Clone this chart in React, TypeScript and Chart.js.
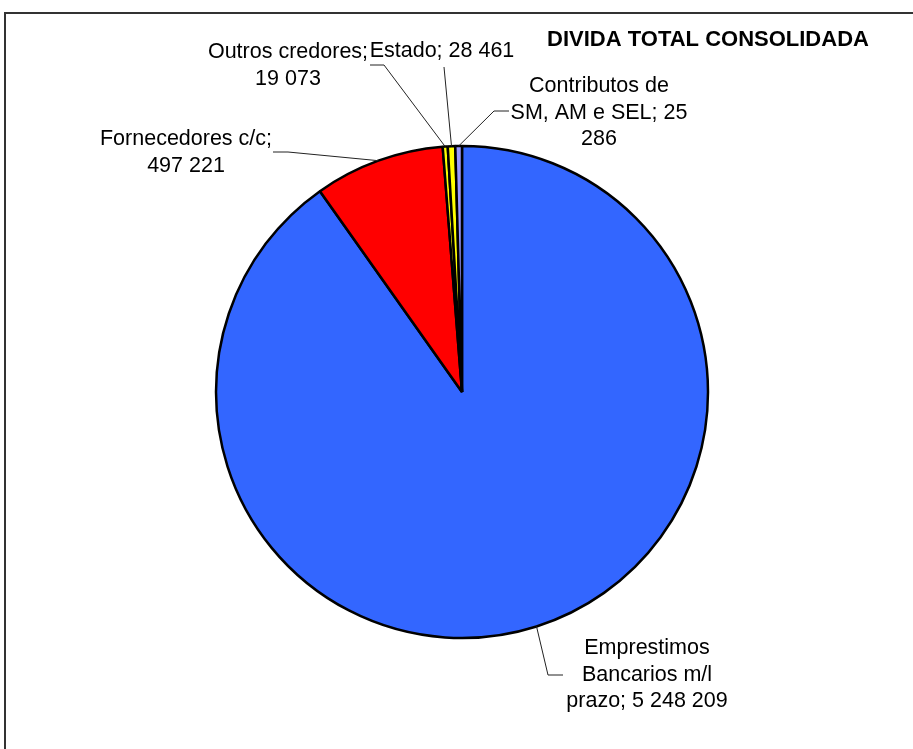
import React, { useEffect, useRef } from "react";
import { Chart, registerables } from "chart.js";

Chart.register(...registerables);

const categories: string[] = [
  "Emprestimos Bancarios m/l prazo",
  "Fornecedores c/c",
  "Outros credores",
  "Estado",
  "Contributos de SM, AM e SEL",
];
const values: number[] = [5248209, 497221, 19073, 28461, 25286];
const colors: string[] = ["#3366FF", "#FF0000", "#FFFF00", "#FFFF00", "#9999FF"];
const titleText = "DIVIDA TOTAL CONSOLIDADA";

const fmt = (v: number) => v.toString().replace(/\B(?=(\d{3})+(?!\d))/g, " ");

// label layout: centre x, first baseline y, wrap width, leader elbow points
const labelLayout = [
  { cx: 647, y: 654, wrap: 172, pts: [[548, 675], [563, 675]] },
  { cx: 186, y: 145, wrap: 185, pts: [[288, 152], [273, 152]] },
  { cx: 288, y: 58, wrap: 170, pts: [[384, 65], [370, 65]] },
  { cx: 442, y: 57, wrap: 200, pts: [[444, 67]] },
  { cx: 599, y: 92, wrap: 182, pts: [[494, 111], [509, 111]] },
];

const FONT = "21.5px 'Liberation Sans', Arial, sans-serif";
const LINE_H = 26.7;

function wrapText(ctx: CanvasRenderingContext2D, text: string, maxW: number): string[] {
  const words = text.split(" ");
  const lines: string[] = [];
  let cur = "";
  for (const w of words) {
    const test = cur ? cur + " " + w : w;
    if (cur && ctx.measureText(test).width > maxW) {
      lines.push(cur);
      cur = w;
    } else {
      cur = test;
    }
  }
  if (cur) lines.push(cur);
  return lines;
}

const overlayPlugin = {
  id: "overlay",
  afterDraw(chart: any) {
    const ctx: CanvasRenderingContext2D = chart.ctx;
    ctx.save();
    // frame
    ctx.strokeStyle = "#333";
    ctx.lineWidth = 2;
    ctx.strokeRect(5, 13, 2000, 2000);
    // title
    ctx.fillStyle = "#000";
    ctx.font = "bold 22px 'Liberation Sans', Arial, sans-serif";
    ctx.textAlign = "center";
    ctx.textBaseline = "alphabetic";
    ctx.fillText(titleText, 708, 46);
    // leaders and labels
    const meta = chart.getDatasetMeta(0);
    ctx.font = FONT;
    meta.data.forEach((arc: any, i: number) => {
      const lay = labelLayout[i];
      const mid = (arc.startAngle + arc.endAngle) / 2;
      const ax = arc.x + Math.cos(mid) * arc.outerRadius;
      const ay = arc.y + Math.sin(mid) * arc.outerRadius;
      ctx.strokeStyle = "#222";
      ctx.lineWidth = 1;
      ctx.beginPath();
      ctx.moveTo(ax, ay);
      lay.pts.forEach((p) => ctx.lineTo(p[0], p[1]));
      ctx.stroke();
      const text = `${categories[i]}; ${fmt(values[i])}`;
      const lines = wrapText(ctx, text, lay.wrap);
      ctx.fillStyle = "#000";
      ctx.textAlign = "center";
      ctx.textBaseline = "alphabetic";
      lines.forEach((ln, k) => ctx.fillText(ln, lay.cx, lay.y + k * LINE_H));
    });
    ctx.restore();
  },
};

export default function App() {
  const ref = useRef<HTMLCanvasElement | null>(null);
  useEffect(() => {
    if (!ref.current) return;
    const chart = new Chart(ref.current, {
      type: "pie",
      data: {
        labels: categories,
        datasets: [
          {
            data: values,
            backgroundColor: colors,
            borderColor: "#000",
            borderWidth: 2.5,
            radius: 246,
          } as any,
        ],
      },
      options: {
        responsive: false,
        animation: false,
        layout: { padding: { left: 11, right: 0, top: 35, bottom: 0 } },
        plugins: {
          legend: { display: false },
          tooltip: { enabled: false },
          title: { display: false },
        },
      },
      plugins: [overlayPlugin],
    });
    return () => chart.destroy();
  }, []);
  return (
    <div style={{ position: "absolute", left: 0, top: 0, width: 913, height: 749, background: "#fff" }}>
      <canvas ref={ref} width={913} height={749} style={{ width: 913, height: 749 }} />
    </div>
  );
}
